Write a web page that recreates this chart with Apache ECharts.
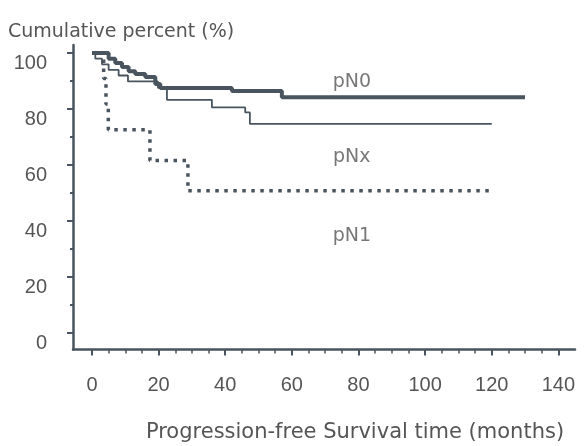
<!DOCTYPE html>
<html>
<head>
<meta charset="utf-8">
<title>Progression-free survival</title>
<script src="https://cdn.jsdelivr.net/npm/echarts@6/dist/echarts.min.js"></script>
<style>
  html, body { margin: 0; padding: 0; background: #fff; }
  #chart { width: 585px; height: 446px; }
</style>
</head>
<body>
<div id="chart"></div>
<script>
// survival curves (months, cumulative %)
const monthsN0 = [0, 5, 7, 9, 11, 13, 16, 19, 20.5, 42, 57, 130];
const valuesN0 = [100, 98, 96.5, 95, 93.5, 92.5, 91.5, 89, 87.5, 86.5, 84.2, 84.2];

const monthsNx = [0, 1, 3, 5, 8, 10.8, 19.8, 22.5, 36, 46, 47.4, 120];
const valuesNx = [100, 98, 96, 94, 92, 89.9, 87.6, 83.3, 80.6, 78.8, 74.7, 74.7];

const monthsN1 = [0, 3.5, 4.2, 4.9, 17.4, 28.8, 120];
const valuesN1 = [100, 90.9, 81.8, 72.6, 61.6, 50.8, 50.8];

// curve names written inside the plot
const labelNames = ['pN0', 'pNx', 'pN1'];
const labelMonths = [78, 78, 78];
const labelValues = [89.6, 63, 34.6];

// ticks
const xMajor = [0, 20, 40, 60, 80, 100, 120, 140];
const xMinor = [0, 5, 10, 15, 20, 25, 30, 35, 40, 45, 50, 55, 60, 65, 70, 75, 80, 85, 90, 95, 100, 105, 110, 115, 120, 125, 130, 135, 140];
const yMajor = [0, 20, 40, 60, 80, 100];
const yMinor = [10, 30, 50, 70, 90];

const ink = '#4a545e';
const textColor = '#555';

function zip (xs, ys) {
  return xs.map((x, i) => [x, ys[i]]);
}

const chart = echarts.init(document.getElementById('chart'));

const option = {
  backgroundColor: '#fff',
  animation: false,
  title: [
    {
      text: 'Cumulative percent (%)',
      left: 8,
      top: 23,
      padding: 0,
      textStyle: { fontFamily: 'DejaVu Sans', fontSize: 19, fontWeight: 'normal', color: textColor }
    },
    {
      text: 'Progression-free Survival time (months)',
      left: 355,
      top: 422,
      textAlign: 'center',
      padding: 0,
      textStyle: { fontFamily: 'DejaVu Sans', fontSize: 21, fontWeight: 'normal', color: textColor }
    }
  ],
  grid: {
    left: 73,
    right: 10,
    top: 45,
    bottom: 96.5,
    containLabel: false,
    outerBoundsMode: 'none'
  },
  xAxis: [
    {
      type: 'value',
      position: 'bottom',
      min: -5.7,
      max: 145,
      axisLine: { onZero: false, lineStyle: { color: ink, width: 2.5 } },
      axisTick: { customValues: xMajor, length: 6, lineStyle: { color: ink, width: 2 } },
      axisLabel: {
        customValues: xMajor,
        margin: 26,
        fontFamily: 'Liberation Sans',
        fontSize: 20,
        color: textColor
      },
      splitLine: { show: false }
    },
    {
      type: 'value',
      position: 'bottom',
      min: -5.7,
      max: 145,
      axisLine: { show: false, onZero: false },
      axisTick: { customValues: xMinor, length: 4, lineStyle: { color: ink, width: 1.5 } },
      axisLabel: { show: false },
      splitLine: { show: false }
    }
  ],
  yAxis: [
    {
      type: 'value',
      position: 'left',
      min: -5.9,
      max: 102.9,
      axisLine: { show: true, onZero: false, lineStyle: { color: ink, width: 2.5 } },
      axisTick: { show: true, customValues: yMajor, length: 6, lineStyle: { color: ink, width: 2 } },
      axisLabel: {
        customValues: yMajor,
        margin: 26,
        verticalAlign: 'top',
        fontFamily: 'Liberation Sans',
        fontSize: 20,
        color: textColor
      },
      splitLine: { show: false }
    },
    {
      type: 'value',
      position: 'left',
      min: -5.9,
      max: 102.9,
      axisLine: { show: false, onZero: false },
      axisTick: { show: true, customValues: yMinor, length: 3, lineStyle: { color: ink, width: 2 } },
      axisLabel: { show: false },
      splitLine: { show: false }
    }
  ],
  series: [
    {
      name: 'pN1',
      type: 'line',
      step: 'end',
      symbol: 'none',
      data: zip(monthsN1, valuesN1),
      lineStyle: { color: ink, width: 3.5, type: [3.5, 5.5], cap: 'butt' }
    },
    {
      name: 'pNx',
      type: 'line',
      step: 'end',
      symbol: 'none',
      data: zip(monthsNx, valuesNx),
      lineStyle: { color: ink, width: 1.8 }
    },
    {
      name: 'pN0',
      type: 'line',
      step: 'end',
      symbol: 'none',
      data: zip(monthsN0, valuesN0),
      lineStyle: { color: ink, width: 4 }
    },
    {
      name: 'labels',
      type: 'scatter',
      symbolSize: 0,
      silent: true,
      data: labelNames.map((n, i) => ({ value: [labelMonths[i], labelValues[i]], name: n })),
      label: {
        show: true,
        position: 'inside',
        formatter: p => p.name,
        fontFamily: 'DejaVu Sans',
        fontSize: 19,
        color: textColor
      }
    }
  ]
};

chart.setOption(option);
</script>
</body>
</html>
